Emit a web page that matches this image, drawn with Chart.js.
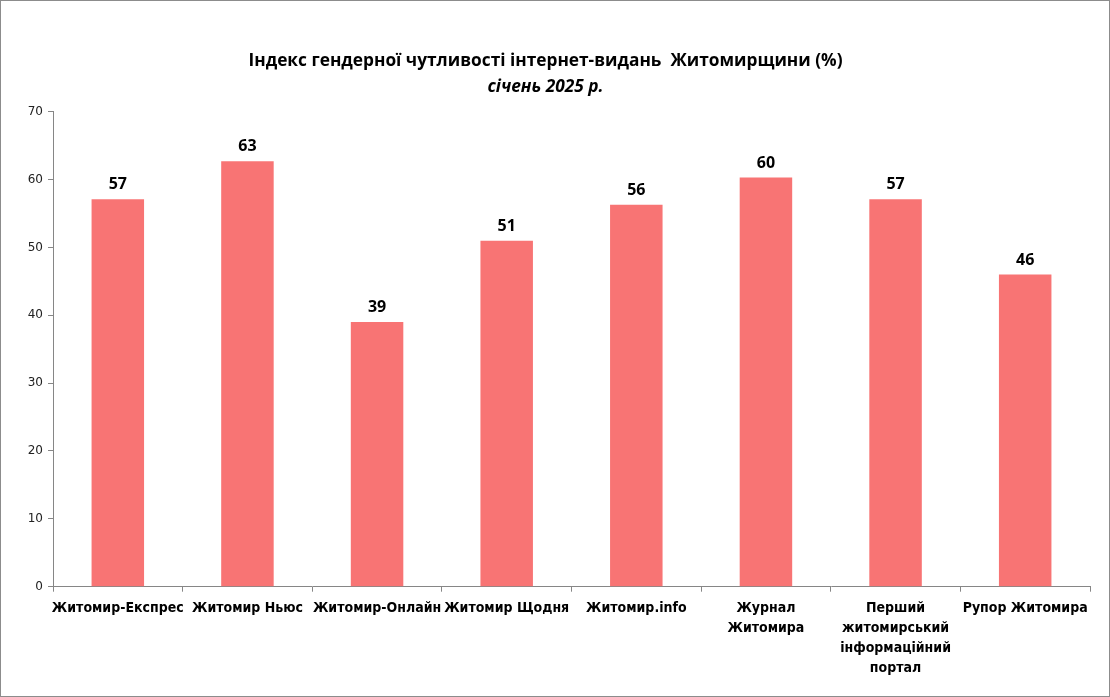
<!DOCTYPE html>
<html>
<head>
<meta charset="utf-8">
<script src="https://cdn.jsdelivr.net/npm/chart.js@4/dist/chart.umd.min.js"></script>
<style>
  html, body { margin: 0; padding: 0; background: #fff; }
  #wrap { width: 1110px; height: 697px; box-sizing: border-box; border: 1px solid #8c8c8c; }
  canvas { display: block; }
</style>
</head>
<body>
<div id="wrap"><canvas id="genderChart" width="1108" height="695"></canvas></div>
<script>
const outlets = [
    'Житомир-Експрес',
    'Житомир Ньюс',
    'Житомир-Онлайн',
    'Житомир Щодня',
    'Житомир.info',
    ['Журнал', 'Житомира'],
    ['Перший', 'житомирський', 'інформаційний', 'портал'],
    'Рупор Житомира'
];
const indexValues = [57.1, 62.7, 39.0, 51.0, 56.3, 60.3, 57.1, 46.0];
const yTicks = [0, 10, 20, 30, 40, 50, 60, 70];

const titleText = 'Індекс гендерної чутливості інтернет-видань  Житомирщини (%)';
const subtitleText = 'січень 2025 р.';

// value labels above the bars
const valueLabels = {
    id: 'valueLabels',
    afterDatasetsDraw(chart) {
        const ctx = chart.ctx;
        const meta = chart.getDatasetMeta(0);
        ctx.save();
        ctx.font = 'bold 16px "Open Sans"';
        ctx.fillStyle = '#000';
        ctx.textAlign = 'center';
        ctx.textBaseline = 'alphabetic';
        meta.data.forEach((bar, i) => {
            ctx.fillText(Math.round(indexValues[i]), bar.x, bar.y - 10);
        });
        ctx.restore();
    }
};

const ctx = document.getElementById('genderChart').getContext('2d');
const genderChart = new Chart(ctx, {
    type: 'bar',
    data: {
        labels: outlets,
        datasets: [{
            label: 'Індекс',
            data: indexValues,
            backgroundColor: '#f87474',
            borderWidth: 0,
            barPercentage: 0.405,
            categoryPercentage: 1
        }]
    },
    options: {
        responsive: false,
        animation: false,
        layout: {
            padding: { left: 0, right: 19, top: 0, bottom: 0 }
        },
        plugins: {
            legend: { display: false },
            tooltip: { enabled: false },
            title: {
                display: true,
                text: titleText,
                color: '#000',
                font: { family: '"Open Sans"', size: 17.3, weight: 'bold' },
                padding: { top: 49.6, bottom: 5.3 }
            },
            subtitle: {
                display: true,
                text: subtitleText,
                color: '#000',
                font: { family: '"Open Sans"', size: 17.3, weight: 'bold', style: 'italic' },
                padding: { top: 0, bottom: 14.3 }
            }
        },
        scales: {
            y: {
                min: 0,
                max: 70,
                afterBuildTicks: (axis) => { axis.ticks = yTicks.map(v => ({ value: v })); },
                afterFit: (axis) => { axis.width = 52; },
                grid: { drawOnChartArea: false, tickLength: 5, color: '#868686' },
                border: { color: '#868686' },
                ticks: {
                    color: '#222',
                    padding: 5,
                    font: { family: '"DejaVu Sans"', size: 12 }
                }
            },
            x: {
                afterFit: (axis) => { axis.height = 109.3; },
                grid: { drawOnChartArea: false, tickLength: 5, color: '#868686', offset: true },
                border: { color: '#868686' },
                ticks: {
                    color: '#000',
                    maxRotation: 0,
                    autoSkip: false,
                    padding: 7,
                    font: { family: '"DejaVu Sans Condensed"', size: 14, weight: 'bold', lineHeight: 1.43 }
                }
            }
        }
    },
    plugins: [valueLabels]
});
</script>
</body>
</html>
